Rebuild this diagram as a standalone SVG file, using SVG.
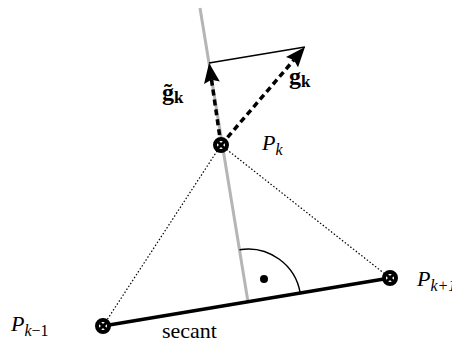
<svg xmlns="http://www.w3.org/2000/svg" width="452" height="344" viewBox="0 0 452 344">
<style>
.lbl{font-family:"Liberation Serif","Times New Roman",serif;font-size:22px;fill:#000}
.it{font-style:italic}
.bf{font-weight:bold;font-size:24px}
.sub{font-size:16px}
.bsub{font-size:17px}
.dot{stroke:#000;stroke-width:1.2;stroke-dasharray:1.5 2;fill:none}
.dash{stroke:#000;stroke-width:3.5;stroke-dasharray:6 4;fill:none}
</style>
<defs>
<marker id="ah" viewBox="0 0 20 16" refX="3" refY="8" markerWidth="20" markerHeight="16" markerUnits="userSpaceOnUse" orient="auto">
<path d="M0,0 L20,8 L0,16 L3,8 Z" fill="#000"/>
</marker>
<g id="otimes"><circle r="6" fill="#fff" stroke="#000" stroke-width="4"/><path d="M-4.3,-4.3 L4.3,4.3 M-4.3,4.3 L4.3,-4.3" stroke="#000" stroke-width="3"/></g>
</defs>
<rect width="452" height="344" fill="#fff"/>
<g id="connectors">
<line x1="200" y1="8" x2="248" y2="302" stroke="#b5b5b5" stroke-width="3"/>
<line x1="103" y1="326" x2="390" y2="278" stroke="#000" stroke-width="3.5"/>
<line class="dot" x1="221" y1="145" x2="103" y2="326"/>
<line class="dot" x1="221" y1="145" x2="390" y2="278"/>
<path d="M239.5,249.7 A53,53 0 0 1 300.3,293.5" fill="none" stroke="#000" stroke-width="1.5"/>
<circle cx="264" cy="279" r="4" fill="#000"/>
<line x1="209" y1="63" x2="305" y2="47" stroke="#000" stroke-width="1.5"/>
<line class="dash" x1="221" y1="145" x2="211.5" y2="79.8" marker-end="url(#ah)"/>
<line class="dash" x1="221" y1="145" x2="293.9" y2="59.9" marker-end="url(#ah)"/>
</g>
<g id="node-pk"><use href="#otimes" x="221" y="145"/></g>
<g id="node-pkm1"><use href="#otimes" x="103" y="326"/></g>
<g id="node-pkp1"><use href="#otimes" x="390" y="278"/></g>
<g id="labels">
<text class="lbl it" x="262" y="150">P<tspan class="sub" dy="5">k</tspan></text>
<text class="lbl it" x="417" y="286">P<tspan class="sub" dy="5">k+1</tspan></text>
<text class="lbl it" x="11" y="331">P<tspan class="sub" dy="5">k<tspan style="font-style:normal">−1</tspan></tspan></text>
<text class="lbl" x="162" y="338">secant</text>
<text class="lbl bf" x="162" y="100">g̃<tspan class="bsub" dy="3">k</tspan></text>
<text class="lbl bf" x="289" y="84">g<tspan class="bsub" dy="3">k</tspan></text>
</g>
</svg>
